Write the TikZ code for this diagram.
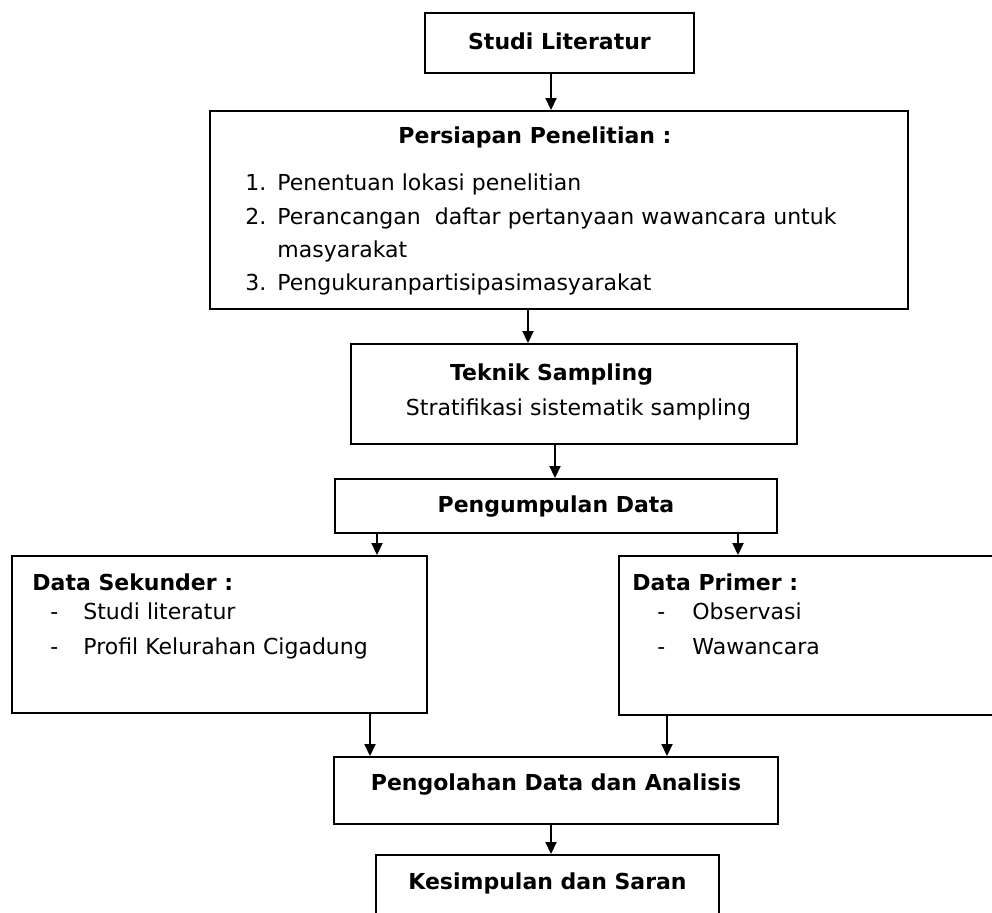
\documentclass[tikz,border=0pt]{standalone}
\usepackage{fontspec}
\setmainfont{DejaVu Sans}
\usetikzlibrary{arrows.meta,fit}
\begin{document}
\begin{tikzpicture}[x=0.5pt,y=-0.5pt,
  box/.style={draw,line width=0.95pt,inner sep=0pt,rectangle},
  ttl/.style={font=\fontsize{11}{13}\selectfont\bfseries,inner sep=0pt},
  txt/.style={font=\fontsize{11}{13}\selectfont,inner sep=0pt},
  arr/.style={line width=0.95pt,-{Triangle[width=5.5pt,length=6pt]}}]
\useasboundingbox (0,0) rectangle (992,913);
\fill[white] (0,0) rectangle (992,913);
\clip (0,0) rectangle (992,913);
% boxes
\node[box,fit={(425,13) (694,73)}] (studi) {};
\node[box,fit={(210,111) (908,309)}] (persiapan) {};
\node[box,fit={(351,344) (797,444)}] (teknik) {};
\node[box,fit={(335,479) (777,533)}] (kumpul) {};
\node[box,fit={(12,556) (427,713)}] (sekunder) {};
\node[box,fit={(619,556) (1010,715)}] (primer) {};
\node[box,fit={(334,757) (778,824)}] (olah) {};
\node[box,fit={(376,855) (719,950)}] (simpul) {};
% texts
\node[ttl,anchor=base] (tstudi) at (559.5,50) {Studi Literatur};
\node[ttl,anchor=base] (tpersiapan) at (535,144) {Persiapan Penelitian :};
\node[txt,anchor=base west] (n1) at (245,191) {1.};
\node[txt,anchor=base west] (i1) at (277,191) {Penentuan lokasi penelitian};
\node[txt,anchor=base west] (n2) at (245,225) {2.};
\node[txt,anchor=base west] (i2) at (277,225) {Perancangan\ \ daftar pertanyaan wawancara untuk};
\node[txt,anchor=base west] (i2b) at (277,258) {masyarakat};
\node[txt,anchor=base west] (n3) at (245,291) {3.};
\node[txt,anchor=base west] (i3) at (277,291) {Pengukuranpartisipasimasyarakat};
\node[ttl,anchor=base] (tteknik) at (551.5,381) {Teknik Sampling};
\node[txt,anchor=base] (tstrat) at (578.5,416) {Stratifikasi sistematik sampling};
\node[ttl,anchor=base] (tkumpul) at (556,513) {Pengumpulan Data};
\node[ttl,anchor=base west] (tsek) at (32,591) {Data Sekunder :};
\node[txt,anchor=base west] (d1) at (50,620) {-};
\node[txt,anchor=base west] (s1) at (83,620) {Studi literatur};
\node[txt,anchor=base west] (d2) at (50,655) {-};
\node[txt,anchor=base west] (s2) at (83,655) {Profil Kelurahan Cigadung};
\node[ttl,anchor=base west] (tprim) at (632,591) {Data Primer :};
\node[txt,anchor=base west] (d3) at (657,620) {-};
\node[txt,anchor=base west] (p1) at (692,620) {Observasi};
\node[txt,anchor=base west] (d4) at (657,655) {-};
\node[txt,anchor=base west] (p2) at (692,655) {Wawancara};
\node[ttl,anchor=base] (tolah) at (556,791) {Pengolahan Data dan Analisis};
\node[ttl,anchor=base] (tsimpul) at (547.5,890) {Kesimpulan dan Saran};
% arrow x positions
\coordinate (xa) at (551,0);
\coordinate (xb) at (528,0);
\coordinate (xc) at (555,0);
\coordinate (xd) at (377,0);
\coordinate (xe) at (738,0);
\coordinate (xf) at (370,0);
\coordinate (xg) at (667,0);
\coordinate (xh) at (551,0);
\draw[arr] (xa |- studi.south) -- (xa |- persiapan.north);
\draw[arr] (xb |- persiapan.south) -- (xb |- teknik.north);
\draw[arr] (xc |- teknik.south) -- (xc |- kumpul.north);
\draw[arr] (xd |- kumpul.south) -- (xd |- sekunder.north);
\draw[arr] (xe |- kumpul.south) -- (xe |- primer.north);
\draw[arr] (xf |- sekunder.south) -- (xf |- olah.north);
\draw[arr] (xg |- primer.south) -- (xg |- olah.north);
\draw[arr] (xh |- olah.south) -- (xh |- simpul.north);
\end{tikzpicture}
\end{document}
